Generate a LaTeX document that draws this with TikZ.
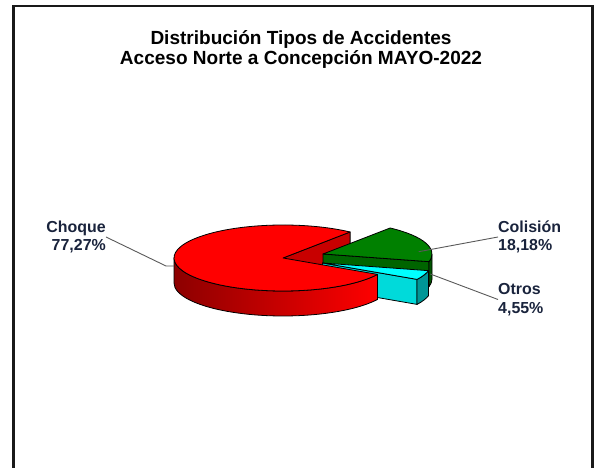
\documentclass[tikz,border=0pt]{standalone}
\usepackage{fontspec}
\setmainfont{Liberation Sans}
\usepackage{xcolor}
\usetikzlibrary{positioning}
\definecolor{lbltext}{RGB}{25,35,60}
\definecolor{redcut}{RGB}{200,0,0}
\definecolor{grntop}{RGB}{0,128,0}
\definecolor{grncut}{RGB}{0,100,0}
\definecolor{grnside}{RGB}{0,85,0}
\definecolor{cyntop}{RGB}{0,255,255}
\definecolor{cyncut}{RGB}{0,218,218}
\definecolor{cynside}{RGB}{0,150,150}

\begin{document}
\begin{tikzpicture}[x=1bp, y=1bp,
    face/.style={draw=black, line width=0.8bp, line join=round},
    ell/.style={x radius=109, y radius=33},
    lbl/.style={font=\fontsize{16}{18.5}\selectfont\bfseries, text=lbltext, inner sep=0pt},
    lead/.style={draw=black!65, line width=0.9bp},
    frame/.style={draw=black!90, line width=2.2bp}
  ]
  \useasboundingbox (0,0) rectangle (595,468);
  \draw[frame] (13.5,-2) -- (13.5,462) -- (592.5,462) -- (592.5,-2);

  \node[font=\fontsize{19.1}{21}\selectfont\bfseries, align=center, inner sep=0pt] (title) at (301,418.5)
    {Distribución Tipos de Accidentes\\Acceso Norte a Concepción MAYO-2022};

  % Choque, back cut
  \begin{scope}[shift={(283,210)}]
    \path[face, fill=redcut] (0,0) -- (52:109 and 33) -- ++(0,-25) -- (0,-25) -- cycle;
  \end{scope}

  % Colision
  \begin{scope}[shift={(323,214)}]
    \path[face, fill=grncut] (0,0) -- (-13.45:109 and 33) -- ++(0,-25) -- (0,-25) -- cycle;
    \path[face, fill=grnside] (-13.45:109 and 33) arc[start angle=-13.45, end angle=0, ell]
      -- ++(0,-25) arc[start angle=0, end angle=-13.45, ell] -- cycle;
    \path[face, fill=grntop] (0,0) -- (-13.45:109 and 33) arc[start angle=-13.45, end angle=52, ell] -- cycle;
    \coordinate (pco) at (4:96 and 33);
  \end{scope}

  % Otros
  \begin{scope}[shift={(322.5,205)}]
    \path[face, fill=cyncut] (0,0) -- (-29.82:109 and 33) -- ++(0,-25) -- (0,-25) -- cycle;
    \path[face, fill=cynside] (-29.82:109 and 33) arc[start angle=-29.82, end angle=-13.45, ell]
      -- ++(0,-25) arc[start angle=-13.45, end angle=-29.82, ell] -- cycle;
    \path[face, fill=cyntop] (0,0) -- (-29.82:109 and 33) arc[start angle=-29.82, end angle=-13.45, ell] -- cycle;
    \coordinate (pot) at (107.8,-11);
  \end{scope}

  % Choque, front
  \begin{scope}[shift={(283,210)}]
    \path[face, left color=red!55!black, right color=red] (180:109 and 33) arc[start angle=180, end angle=330.18, ell]
      -- ++(0,-25) arc[start angle=330.18, end angle=180, ell] -- cycle;
    \path[face, fill=red] (0,0) -- (52:109 and 33) arc[start angle=52, end angle=330.18, ell] -- cycle;
    \coordinate (pch) at (-109,-8);
  \end{scope}

  \node[lbl, align=right, anchor=east] (choque) at (106,231) {Choque\\77,27\%};
  \node[lbl, align=left, anchor=west] (colision) at (498,231) {Colisión\\18,18\%};
  \node[lbl, align=left, anchor=west] (otros) at (498,168.5) {Otros\\4,55\%};

  \coordinate (kch) at (166,202);
  \draw[lead] (choque.east) -- (kch) -- (pch);
  \draw[lead] (colision.west) -- (pco);
  \draw[lead] (otros.west) -- (pot);
\end{tikzpicture}
\end{document}
